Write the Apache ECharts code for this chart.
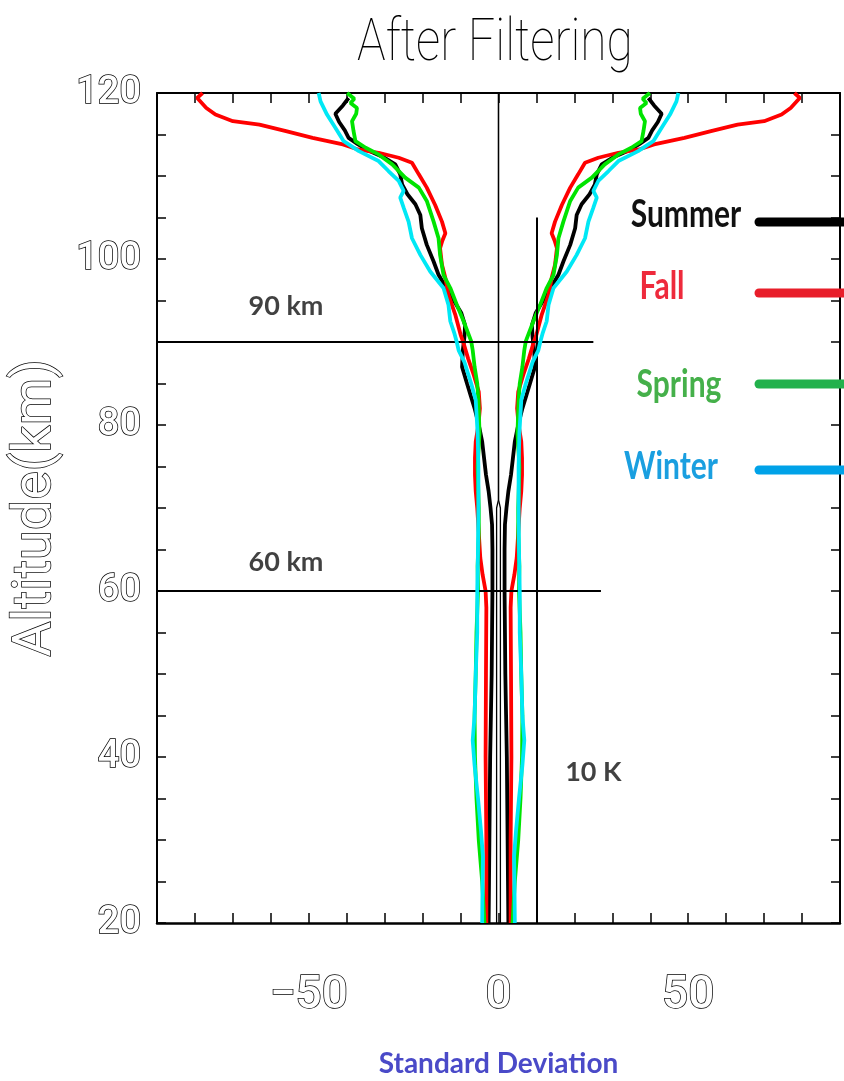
<!DOCTYPE html>
<html>
<head>
<meta charset="utf-8">
<title>After Filtering</title>
<script src="https://cdn.jsdelivr.net/npm/echarts@6/dist/echarts.min.js"></script>
<style>
html,body{margin:0;padding:0;background:#fff;}
#main{width:844px;height:1081px;}
</style>
</head>
<body>
<div id="main"></div>
<script>
// altitude (km) and standard deviation (K) of each season
var summerAlt = [20, 25, 30, 35, 40, 45, 50, 55, 60, 65, 68, 70, 72, 74, 76, 78, 80, 82, 83.5, 85, 87, 89, 90.5, 92, 93.5, 95.7, 98.1, 99.7, 101.7, 103.7, 105.3, 106.6, 107.8, 109, 110.2, 111.4, 112.2, 113, 113.8, 114.6, 115.5, 116.5, 117.5, 118.5, 119.4];
var summerSd  = [2.6, 2.5, 2.4, 2.3, 2.2, 2.0, 1.8, 1.7, 1.6, 1.6, 1.7, 2.1, 2.6, 3.3, 3.8, 4.3, 5.2, 6.3, 7.3, 8.3, 9.6, 9.4, 9.0, 8.8, 9.8, 12.7, 15.8, 17.1, 18.9, 20.2, 20.6, 21.9, 24.0, 25.4, 25.9, 27.2, 30.0, 34.0, 37.0, 39.5, 40.5, 42.0, 43.0, 41.0, 39.5];

var fallAlt = [20, 30, 40, 50, 58, 60, 62, 64, 67, 70, 72, 74, 76, 78, 80, 82, 84, 86, 88, 90, 90.9, 93.3, 95.7, 97.7, 99.3, 101.3, 102.2, 103.1, 104.5, 106.5, 108.6, 110.2, 111.6, 112.2, 112.8, 113.2, 113.8, 114.6, 115.4, 116.2, 116.6, 117.4, 118.2, 119.4, 120];
var fallSd  = [3.2, 3.2, 3.4, 3.3, 3.2, 3.4, 4.2, 4.8, 5.2, 5.6, 6.0, 6.2, 6.2, 6.0, 5.3, 4.9, 5.2, 6.5, 8.0, 9.3, 10.0, 11.4, 13.2, 14.0, 14.9, 15.4, 14.8, 14.0, 14.9, 16.7, 18.9, 21.0, 22.8, 26.3, 31.6, 37.0, 41.0, 49.0, 56.0, 63.0, 70.0, 74.6, 77.0, 79.4, 78.0];

var springAlt = [20, 25, 30, 35, 40, 45, 50, 55, 60, 63, 67, 70, 75, 79, 83, 85, 87, 89, 90.1, 92.5, 94.5, 96.5, 98.1, 100.5, 102.5, 104.5, 107, 108.6, 109.8, 111.4, 112.6, 113.4, 114.2, 115.4, 116.6, 117.5, 118.2, 118.8, 119.3, 120];
var springSd  = [3.7, 4.3, 5.2, 5.8, 6.2, 6.3, 6.0, 5.8, 5.4, 5.5, 5.2, 5.2, 5.5, 5.0, 5.3, 5.6, 6.3, 6.8, 7.2, 9.2, 11.0, 12.7, 14.5, 15.4, 15.8, 17.1, 18.9, 21.0, 24.6, 28.0, 31.6, 35.0, 37.7, 38.2, 38.6, 37.5, 37.3, 39.0, 38.0, 39.9];

var winterAlt = [20, 25, 28, 31, 35, 39, 42, 45, 50, 55, 60, 65, 70, 75, 79, 83, 85, 87.6, 89, 90, 91, 92.5, 94.5, 96.5, 98.5, 100.5, 102.5, 104.5, 106.2, 107.4, 108.2, 109.4, 110.6, 111.8, 113, 114.2, 115.8, 117.4, 119, 120];
var winterSd  = [4.3, 4.2, 4.1, 4.6, 5.4, 6.3, 6.8, 6.3, 6.0, 5.6, 5.6, 5.4, 5.3, 5.3, 5.5, 6.0, 7.2, 9.0, 10.5, 11.0, 11.6, 12.7, 13.2, 14.5, 18.0, 20.6, 22.8, 23.7, 25.0, 25.9, 25.0, 26.3, 29.0, 31.6, 36.8, 40.8, 43.0, 45.2, 46.9, 47.4];

// thin centre line (splits in two below 70 km)
var centerAlt = [20, 70, 71, 120];
var centerSd  = [0.5, 0.5, 0, 0];

var xTickLabels = [-50, 0, 50];
var yTickLabels = [20, 40, 60, 80, 100, 120];

// reference lines: altitude of the horizontals and where they stop, the 10 K vertical
var levelAlt = [90, 60];
var levelEnd = [25, 27];
var kLineX = 10, kLineTop = 105;

// text notes placed in data units
var noteText = ['90 km', '60 km', '10 K'];
var noteX = [-56, -56, 25];
var noteY = [94.3, 63.5, 38.2];

var seasons = ['Summer', 'Fall', 'Spring', 'Winter'];
var lineColors = ['#000000', '#ff0000', '#00e400', '#00e8f5'];
var textColors = ['#111111', '#ee2a3c', '#45b04a', '#1a9fe0'];
var keyColors  = ['#000000', '#e81e2a', '#22b14c', '#00a2e8'];

var alts = [summerAlt, fallAlt, springAlt, winterAlt];
var sds = [summerSd, fallSd, springSd, winterSd];

function side(alt, sd, sign) {
    var out = [];
    for (var i = 0; i < alt.length; i++)
        out.push([sign * sd[i], alt[i]]);
    return out;
}

var series = [];
// centre line + reference lines
var refData = [];
for (var i = 0; i < levelAlt.length; i++)
    refData.push([{coord: [-90, levelAlt[i]]}, {coord: [levelEnd[i], levelAlt[i]]}]);
refData.push([{coord: [kLineX, 20]}, {coord: [kLineX, kLineTop]}]);
series.push({
    type: 'line', data: side(centerAlt, centerSd, -1), symbol: 'none', silent: true,
    lineStyle: {color: '#000', width: 1.3}, z: 1,
    markLine: {
        silent: true, symbol: ['none', 'none'], label: {show: false},
        lineStyle: {color: '#000', width: 2, type: 'solid'},
        data: refData
    }
});
series.push({
    type: 'line', data: side(centerAlt, centerSd, 1), symbol: 'none', silent: true,
    lineStyle: {color: '#000', width: 1.3}, z: 1
});

for (var s = 0; s < seasons.length; s++) {
    for (var k = -1; k <= 1; k += 2) {
        series.push({
            name: seasons[s], type: 'line', symbol: 'none', silent: true,
            data: side(alts[s], sds[s], k),
            lineStyle: {color: lineColors[s], width: 3.8},
            z: 2 + s
        });
    }
}

var notes = [];
for (var i = 0; i < noteText.length; i++)
    notes.push({value: [noteX[i], noteY[i]], label: {formatter: noteText[i]}});
series.push({
    type: 'scatter', symbolSize: 0, silent: true, data: notes, z: 10,
    label: {show: true, position: 'inside', color: '#111', fontFamily: 'Lato', fontWeight: 'bold', fontSize: 27}
});

var hollow = {color: '#fff', textBorderColor: '#000', textBorderWidth: 1.5, fontFamily: 'Roboto', fontWeight: 500};

function minusFmt(v) { return v < 0 ? '\u2212' + (-v) : '' + v; }

// hand drawn key on the right
var keyY = [215, 287, 385, 467];
var keyLineY = [222, 293, 384, 470];
var keyTextX = [686, 662, 679, 671];
var graphics = [{
    type: 'text', x: 495, y: 45, scaleX: 0.8, z: 100,
    style: {text: 'After Filtering', font: '100 60px Roboto', fill: '#000', align: 'center', verticalAlign: 'middle'}
}];
for (var s = 0; s < seasons.length; s++) {
    graphics.push({
        type: 'text', x: keyTextX[s], y: keyY[s], scaleY: 1.25, z: 100,
        style: {text: seasons[s], font: 'bold 30px Lato', fill: textColors[s], align: 'center', verticalAlign: 'middle'}
    });
    graphics.push({
        type: 'line', z: 100,
        shape: {x1: 759, y1: keyLineY[s], x2: 850, y2: keyLineY[s]},
        style: {stroke: keyColors[s], lineWidth: 9, lineCap: 'round'}
    });
}

var chart = echarts.init(document.getElementById('main'));
chart.setOption({
    animation: false,
    backgroundColor: '#fff',
    grid: {left: 157, right: 4, top: 93, bottom: 158, containLabel: false, outerBoundsMode: 'none'},
    xAxis: [{
        type: 'value', position: 'bottom', min: -90, max: 90, interval: 10,
        axisLine: {onZero: false, lineStyle: {color: '#000', width: 2.5}},
        axisTick: {inside: true, length: 10, lineStyle: {color: '#000', width: 1.5}},
        axisLabel: Object.assign({customValues: xTickLabels, formatter: minusFmt, fontSize: 46, margin: 50}, hollow),
        splitLine: {show: false},
        name: 'Standard Deviation', nameLocation: 'middle', nameGap: 127,
        nameTextStyle: {color: '#4a4ac8', fontFamily: 'Lato', fontWeight: 'bold', fontSize: 28}
    }, {
        type: 'value', position: 'top', min: -90, max: 90, interval: 10,
        axisLine: {onZero: false, lineStyle: {color: '#000', width: 2}},
        axisTick: {inside: true, length: 10, lineStyle: {color: '#000', width: 1.5}},
        axisLabel: {show: false}, splitLine: {show: false}
    }],
    yAxis: [{
        type: 'value', position: 'left', min: 20, max: 120, interval: 5,
        axisLine: {onZero: false, lineStyle: {color: '#000', width: 2}},
        axisTick: {inside: true, length: 9, lineStyle: {color: '#000', width: 1.5}},
        axisLabel: Object.assign({customValues: yTickLabels, fontSize: 38, margin: 16}, hollow),
        splitLine: {show: false},
        name: 'Altitude(km)', nameLocation: 'middle', nameGap: 92, nameRotate: 90,
        nameTextStyle: Object.assign({fontSize: 54}, hollow, {fontWeight: 400})
    }, {
        type: 'value', position: 'right', min: 20, max: 120, interval: 5,
        axisLine: {onZero: false, lineStyle: {color: '#000', width: 2}},
        axisTick: {inside: true, length: 9, lineStyle: {color: '#000', width: 1.5}},
        axisLabel: {show: false}, splitLine: {show: false}
    }],
    series: series,
    graphic: graphics
});
</script>
</body>
</html>
